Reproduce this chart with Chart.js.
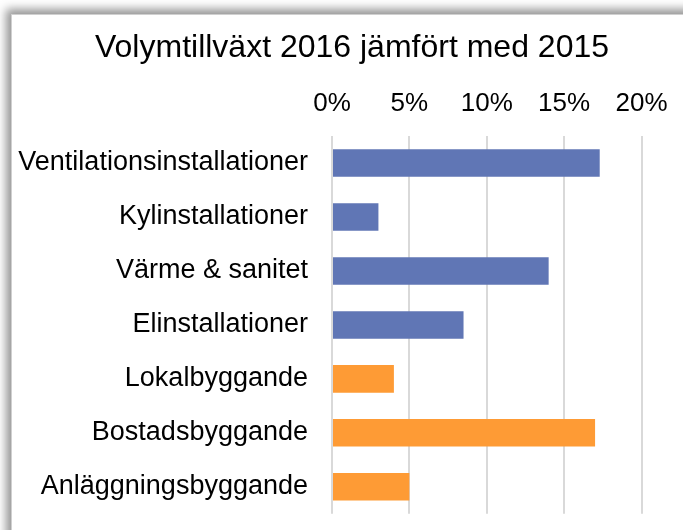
<!DOCTYPE html>
<html>
<head>
<meta charset="utf-8">
<script src="https://cdn.jsdelivr.net/npm/chart.js@4/dist/chart.umd.min.js"></script>
<style>
  html, body { margin: 0; padding: 0; background: #ffffff; overflow: hidden; }
  #wrap { position: relative; width: 683px; height: 530px; background: #ffffff; overflow: hidden; }
  #frame { position: absolute; left: 11px; top: 14px; width: 720px; height: 600px; background: #fff;
           border-left: 1px solid #d0d0d0; border-top: 1px solid #d0d0d0;
           box-shadow: -3px -3px 9px 2px rgba(0,0,0,0.42); }
  #c { position: absolute; left: 0; top: 0; }
</style>
</head>
<body>
<div id="wrap">
  <div id="frame"></div>
  <canvas id="c" width="683" height="530"></canvas>
</div>
<script>
const titleText = "Volymtillväxt 2016 jämfört med 2015";
const categories = [
  "Ventilationsinstallationer",
  "Kylinstallationer",
  "Värme & sanitet",
  "Elinstallationer",
  "Lokalbyggande",
  "Bostadsbyggande",
  "Anläggningsbyggande"
];
const values = [17.3, 3.0, 14.0, 8.5, 4.0, 17.0, 5.0];
const groups = ["inst", "inst", "inst", "inst", "bygg", "bygg", "bygg"];
const tickValues = [0, 5, 10, 15, 20];

const groupColors = { inst: "#6076b5", bygg: "#fe9b35" };
const FONT = "Liberation Sans, Arial, sans-serif";

// Center the title on the framed box rather than on the padded chart width
const titleShift = {
  id: "titleShift",
  afterLayout(chart) {
    if (chart.titleBlock) chart.titleBlock.left = 62.5;
  }
};

new Chart(document.getElementById("c"), {
  type: "bar",
  data: {
    labels: categories,
    datasets: [{
      data: values,
      backgroundColor: groups.map(g => groupColors[g]),
      borderWidth: 0,
      categoryPercentage: 1.0,
      barPercentage: 0.51
    }]
  },
  plugins: [titleShift],
  options: {
    indexAxis: "y",
    responsive: false,
    animation: false,
    layout: { padding: { left: 0, right: 41.5, top: 0, bottom: 16 } },
    plugins: {
      legend: { display: false },
      tooltip: { enabled: false },
      title: {
        display: true,
        text: titleText,
        color: "#000",
        font: { family: FONT, size: 32, weight: "normal", lineHeight: 1.2 },
        padding: { top: 29, bottom: 0 }
      }
    },
    scales: {
      x: {
        position: "top",
        min: 0,
        max: 20,
        afterBuildTicks: (s) => { s.ticks = tickValues.map(v => ({ value: v })); },
        afterFit: (s) => { s.height = 68.6; },
        ticks: {
          color: "#000",
          padding: 0,
          font: { family: FONT, size: 26 },
          callback: (v) => v + "%"
        },
        grid: { color: "#d9d9d9", lineWidth: 2, drawTicks: true, tickLength: 17, tickColor: "rgba(0,0,0,0)" },
        border: { display: false }
      },
      y: {
        afterFit: (s) => { s.width = 332; },
        ticks: {
          color: "#000",
          padding: 0,
          font: { family: FONT, size: 27 }
        },
        grid: { display: true, drawOnChartArea: false, drawTicks: true, tickLength: 24, color: "rgba(0,0,0,0)", tickColor: "rgba(0,0,0,0)" },
        border: { display: false }
      }
    }
  }
});
</script>
</body>
</html>
